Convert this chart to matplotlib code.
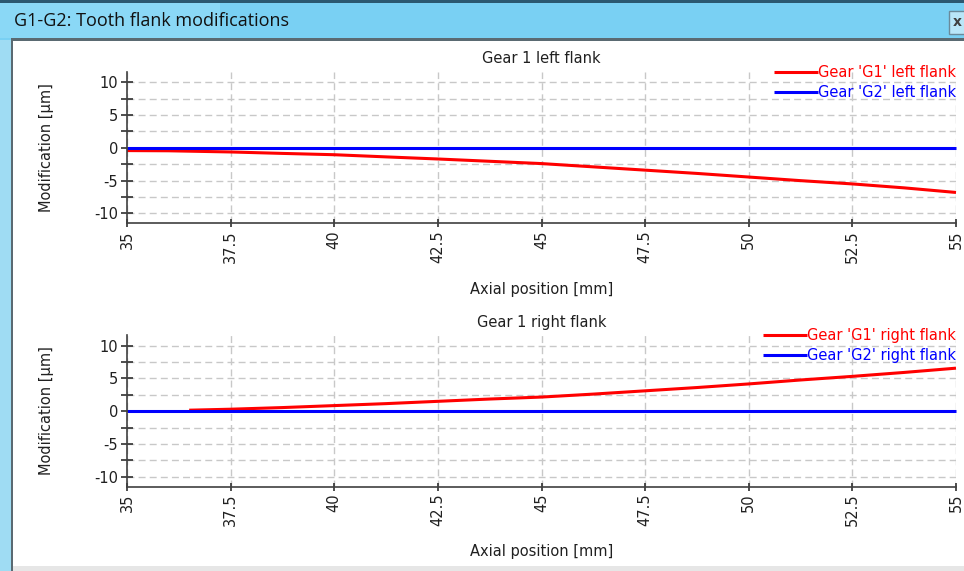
import matplotlib
matplotlib.use("Agg")
import matplotlib.pyplot as plt
from matplotlib.patches import Rectangle
from matplotlib.ticker import MultipleLocator, FixedLocator

plt.rcParams['font.family'] = ['DejaVu Sans']
plt.rcParams['axes.unicode_minus'] = False

# ---------------- data ----------------
window_title = "G1-G2: Tooth flank modifications"
titles = ["Gear 1 left flank", "Gear 1 right flank"]
x_label = "Axial position [mm]"
y_label = "Modification [µm]"
legend_left = ["Gear 'G1' left flank", "Gear 'G2' left flank"]
legend_right = ["Gear 'G1' right flank", "Gear 'G2' right flank"]

x_g1_left = [35, 36, 37.5, 38.75, 40, 41.25, 42.5, 43.75, 45, 46.25, 47.5,
             48.75, 50, 51.25, 52.5, 53.75, 55]
g1_left = [-0.42, -0.45, -0.63, -0.85, -1.05, -1.38, -1.70, -2.05, -2.40,
           -2.90, -3.40, -3.90, -4.45, -5.00, -5.50, -6.10, -6.80]

x_g1_right = [36.5, 37.5, 38.75, 40, 41.25, 42.5, 43.75, 45, 46.25, 47.5,
              48.75, 50, 51.25, 52.5, 53.75, 55]
g1_right = [0.15, 0.30, 0.55, 0.85, 1.15, 1.50, 1.85, 2.15, 2.60, 3.10,
            3.60, 4.15, 4.75, 5.30, 5.90, 6.55]

x_g2 = [35, 55]
g2_left = [0, 0]
g2_right = [0, 0]

x_ticks = [35, 37.5, 40, 42.5, 45, 47.5, 50, 52.5, 55]
x_tick_labels = ["35", "37.5", "40", "42.5", "45", "47.5", "50", "52.5", "55"]
y_ticks = [-10, -5, 0, 5, 10]
y_tick_labels = ["-10", "-5", "0", "5", "10"]

# ---------------- figure ----------------
W, H = 964, 571
fig = plt.figure(figsize=(W / 100, H / 100), dpi=100)
fig.patch.set_facecolor("white")


def px_rect(x0, y0, x1, y1, color, z=0, ec="none"):
    fig.patches.append(Rectangle((x0 / W, 1 - y1 / H), (x1 - x0) / W, (y1 - y0) / H,
                                 transform=fig.transFigure, facecolor=color,
                                 edgecolor=ec, linewidth=1, zorder=z))

# window chrome
px_rect(0, 0, W, 40, "#79d0f3")
px_rect(0, 0, W, 3, "#2b5870")
px_rect(0, 3, 220, 38, "#8ad8f6")
px_rect(0, 40, 12, H, "#9fdcf3")
px_rect(11, 38, W, 41, "#5a6a72")
px_rect(11, 38, 13, H, "#5a6a72")
px_rect(13, 566, W, H, "#e6e6e6")
px_rect(949, 11, W + 5, 34, "#b9e6f8", ec="#6a8a9a")
fig.text(953 / W, 1 - 22 / H, "x", color="#404040", fontsize=10, fontweight="bold",
         ha="left", va="center")
fig.text(14 / W, 1 - 21 / H, window_title, fontsize=13, family="Open Sans",
         color="#111111", ha="left", va="center")

grid_kw = dict(color="#c8c8c8", linestyle=(0, (5, 3)), linewidth=1.0)
FS = 10.5


def setup(ax, title, xlab_y):
    ax.set_xlim(35, 55)
    ax.set_ylim(-11.5, 11.6)
    for s in ["top", "right"]:
        ax.spines[s].set_visible(False)
    for s in ["left", "bottom"]:
        ax.spines[s].set_color("#404040")
        ax.spines[s].set_linewidth(1.2)
    ax.xaxis.set_major_locator(FixedLocator(x_ticks))
    ax.set_xticklabels(x_tick_labels, rotation=90, fontsize=FS, color="#202020")
    ax.yaxis.set_major_locator(FixedLocator(y_ticks))
    ax.set_yticklabels(y_tick_labels, fontsize=FS, color="#202020")
    ax.yaxis.set_minor_locator(MultipleLocator(2.5))
    ax.tick_params(axis="y", which="both", direction="inout", length=8.5,
                   width=1.2, color="#303030", pad=2)
    ax.tick_params(axis="x", which="both", direction="inout", length=6,
                   width=1.2, color="#303030", pad=2)
    ax.grid(True, which="both", axis="y", **grid_kw)
    ax.grid(True, which="major", axis="x", **grid_kw)
    ax.set_axisbelow(True)
    ax.set_title(title, fontsize=FS, pad=6, color="#202020")
    ax.set_xlabel(x_label, fontsize=FS, color="#202020")
    ax.set_ylabel(y_label, fontsize=FS, color="#202020")
    ax.xaxis.set_label_coords(0.5, xlab_y)
    ax.yaxis.set_label_coords(-0.088, 0.5)


ax1 = fig.add_axes([127 / W, 1 - 223.3 / H, 829 / W, 151.6 / H])
ax2 = fig.add_axes([127 / W, 1 - 486.7 / H, 829 / W, 151.7 / H])

setup(ax1, titles[0], -0.39)
setup(ax2, titles[1], -0.375)

ax1.plot(x_g1_left, g1_left, color="#ff0000", linewidth=2.2, label=legend_left[0],
         clip_on=False, solid_capstyle="butt")
ax1.plot(x_g2, g2_left, color="#0000ff", linewidth=2.2, label=legend_left[1],
         clip_on=False, solid_capstyle="butt")
ax2.plot(x_g1_right, g1_right, color="#ff0000", linewidth=2.2, label=legend_right[0],
         clip_on=False, solid_capstyle="butt")
ax2.plot(x_g2, g2_right, color="#0000ff", linewidth=2.2, label=legend_right[1],
         clip_on=False, solid_capstyle="butt")

for ax in (ax1, ax2):
    ax.legend(loc="upper right", bbox_to_anchor=(1.0, 1.045), frameon=False,
              fontsize=FS, handlelength=3.0, handletextpad=0.0, borderpad=0,
              borderaxespad=0, labelspacing=0.35, labelcolor="linecolor")

fig.savefig("out.png", dpi=100)
